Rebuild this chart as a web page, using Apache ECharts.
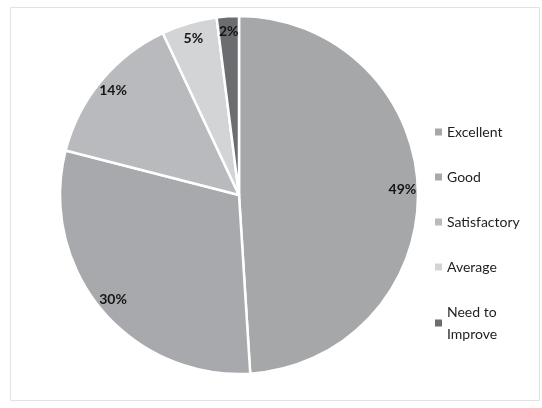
<!DOCTYPE html>
<html>
<head>
<meta charset="utf-8">
<script src="https://cdn.jsdelivr.net/npm/echarts@6/dist/echarts.min.js"></script>
<style>
html,body{margin:0;padding:0;background:#fff;}
#chart{width:542px;height:408px;}
</style>
</head>
<body>
<div id="chart"></div>
<script>
const categories = ['Excellent', 'Good', 'Satisfactory', 'Average', 'Need to Improve'];
const values = [49, 30, 14, 5, 2];
const colors = ['#a5a7a9', '#a7a9ac', '#b8babd', '#d3d4d6', '#6b6d70'];

const pieData = categories.map((c, i) => ({ name: c, value: values[i], itemStyle: { color: colors[i] } }));
const labelData = categories.map((c, i) => ({ name: c, value: values[i] }));
const legendData = categories.map((c, i) => ({ name: c, itemStyle: { color: colors[i], opacity: 1, borderWidth: 0 } }));

const chart = echarts.init(document.getElementById('chart'), null, { renderer: 'canvas' });
chart.setOption({
  backgroundColor: '#ffffff',
  animation: false,
  graphic: [{
    type: 'rect', left: 8, top: 5, shape: { width: 529, height: 393 },
    style: { fill: 'none', stroke: '#e2e2e2', lineWidth: 1 }, silent: true, z: 0
  }],
  legend: {
    orient: 'vertical',
    left: 430,
    top: 116,
    itemGap: 23,
    itemWidth: 7,
    itemHeight: 7,
    icon: 'rect',
    data: legendData,
    textStyle: { fontFamily: 'Lato', fontSize: 14, color: '#1e1e1e', width: 86, overflow: 'break', lineHeight: 22 }
  },
  series: [
    {
      type: 'pie',
      center: [239, 195],
      radius: [0, 179],
      startAngle: 90,
      clockwise: true,
      label: { show: false },
      labelLine: { show: false },
      itemStyle: { borderColor: '#ffffff', borderWidth: 2.5 },
      emphasis: { disabled: true },
      data: pieData
    },
    {
      type: 'pie',
      center: [239, 195],
      radius: [142, 179],
      startAngle: 90,
      clockwise: true,
      silent: true,
      legendHoverLink: false,
      itemStyle: { color: 'rgba(0,0,0,0)', borderWidth: 0 },
      label: {
        show: true, position: 'inside',
        formatter: p => p.value + '%',
        fontFamily: 'Lato', fontWeight: 'bold', fontSize: 14, color: '#151515'
      },
      labelLine: { show: false },
      emphasis: { disabled: true },
      data: labelData
    }
  ]
});
</script>
</body>
</html>
